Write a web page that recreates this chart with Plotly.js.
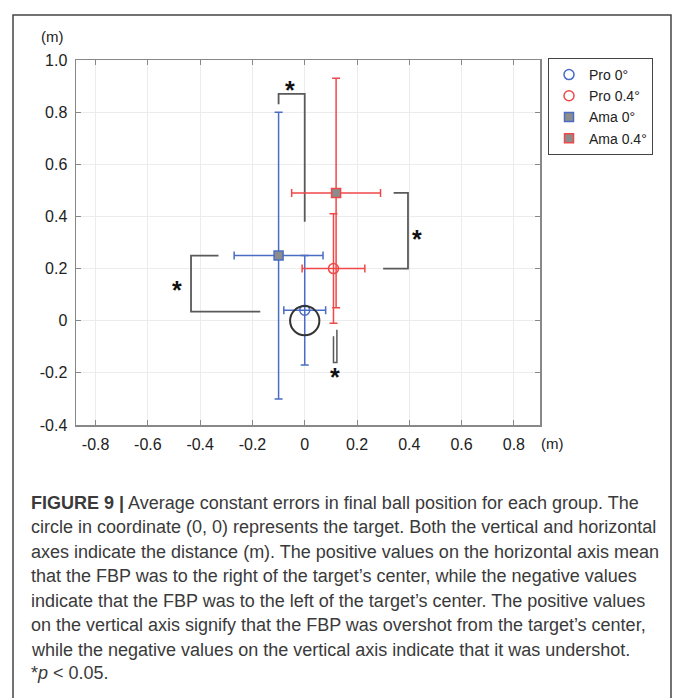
<!DOCTYPE html>
<html>
<head>
<meta charset="utf-8">
<script src="https://cdn.plot.ly/plotly-3.0.1.min.js"></script>
<style>html,body{margin:0;padding:0;background:#fff;}#chart{width:673px;height:698px;}</style>
</head>
<body>
<div id="chart"></div>
<script>
// ---- data ----
const groups = ['Pro 0°', 'Pro 0.4°', 'Ama 0°', 'Ama 0.4°'];
const meanX = [0.00, 0.11, -0.10, 0.12];
const meanY = [0.04, 0.20, 0.25, 0.49];
const sdX = [0.08, 0.12, 0.17, 0.17];
const sdY = [0.21, 0.21, 0.55, 0.44];

const xTickVals = [-0.8, -0.6, -0.4, -0.2, 0, 0.2, 0.4, 0.6, 0.8];
const xTickText = ['-0.8', '-0.6', '-0.4', '-0.2', '0', '0.2', '0.4', '0.6', '0.8'];
const yTickVals = [1.0, 0.8, 0.6, 0.4, 0.2, 0, -0.2, -0.4];
const yTickText = ['1.0', '0.8', '0.6', '0.4', '0.2', '0', '-0.2', '-0.4'];

// significance brackets (data coordinates)
const bracketX = [
  [-0.10, -0.10, 0.0, 0.0],
  [0.34, 0.395, 0.395, 0.30],
  [-0.33, -0.435, -0.435, -0.17],
  [0.11, 0.11, 0.123, 0.123]
];
const bracketY = [
  [0.83, 0.87, 0.87, 0.38],
  [0.49, 0.49, 0.20, 0.20],
  [0.25, 0.25, 0.035, 0.035],
  [-0.06, -0.16, -0.16, -0.035]
];
const starX = [-0.056, 0.43, -0.49, 0.116];
const starY = [0.90, 0.33, 0.135, -0.20];
const targetRadius = 0.056;

const captionLines = [
  '<b>FIGURE 9 |</b> Average constant errors in final ball position for each group. The',
  'circle in coordinate (0, 0) represents the target. Both the vertical and horizontal',
  'axes indicate the distance (m). The positive values on the horizontal axis mean',
  'that the FBP was to the right of the target\u2019s center, while the negative values',
  'indicate that the FBP was to the left of the target\u2019s center. The positive values',
  'on the vertical axis signify that the FBP was overshot from the target\u2019s center,',
  'while the negative values on the vertical axis indicate that it was undershot.',
  '*<i>p</i> &lt; 0.05.'
];

// ---- styles ----
const colors = ['#4a6cc4', '#f04848', '#4a6cc4', '#f04848'];
const symbols = ['circle-open', 'circle-open', 'square', 'square'];
const fills = ['rgba(0,0,0,0)', 'rgba(0,0,0,0)', '#8c8c8c', '#8c8c8c'];

const W = 673, H = 698;
const M = {l: 76, r: 133, t: 60, b: 273};
const pw = W - M.l - M.r, ph = H - M.t - M.b;
const px = x => (x - M.l) / pw;
const py = y => (H - M.b - y) / ph;

const traces = [];
for (let i = 0; i < bracketX.length; i++) {
  traces.push({
    x: bracketX[i], y: bracketY[i], mode: 'lines', type: 'scatter',
    line: {color: '#5a5a5a', width: i === 3 ? 1.5 : 1.8}, showlegend: false, hoverinfo: 'skip'
  });
}
const order = [2, 0, 3, 1];
order.forEach(i => {
  traces.push({
    x: [meanX[i]], y: [meanY[i]], type: 'scatter', mode: 'markers', name: groups[i],
    legendrank: i + 1,
    marker: {symbol: symbols[i], size: i < 2 ? 10 : 9, color: i < 2 ? colors[i] : fills[i],
             line: {color: colors[i], width: 1.5}},
    error_x: {type: 'data', array: [sdX[i]], color: colors[i], thickness: 1.5, width: 4},
    error_y: {type: 'data', array: [sdY[i]], color: colors[i], thickness: 1.5, width: 4}
  });
});

const annotations = [];
for (let i = 0; i < starX.length; i++) {
  annotations.push({x: starX[i], y: starY[i], xref: 'x', yref: 'y', text: '<b>*</b>', showarrow: false,
    xanchor: 'center', yanchor: 'middle',
    font: {family: 'Liberation Sans, Arial', size: 25, color: '#111'}, yshift: -4});
}
annotations.push({x: px(52), y: py(37), xref: 'paper', yref: 'paper', text: '(m)', showarrow: false,
  xanchor: 'center', yanchor: 'middle',
  font: {family: 'Liberation Sans, Arial', size: 15, color: '#222'}});
annotations.push({x: px(552), y: py(444), xref: 'paper', yref: 'paper', text: '(m)', showarrow: false,
  xanchor: 'center', yanchor: 'middle',
  font: {family: 'Liberation Sans, Arial', size: 15, color: '#222'}});
const capY = [503, 527, 552, 576, 601, 625, 650, 673];
captionLines.forEach((t, k) => {
  annotations.push({x: px(29), y: py(capY[k]), xref: 'paper', yref: 'paper', xanchor: 'left', yanchor: 'middle',
    text: t, showarrow: false, font: {family: 'Liberation Sans, Arial', size: 18, color: '#3a3a3a'}});
});

const layout = {
  width: W, height: H, margin: M, paper_bgcolor: '#fff', plot_bgcolor: '#fff',
  font: {family: 'Liberation Sans, Arial', color: '#222', size: 15},
  xaxis: {range: [-0.875, 0.9], tickvals: xTickVals, ticktext: xTickText, ticks: 'inside', ticklen: 5,
    tickcolor: '#888', showline: true, linecolor: '#888', linewidth: 1.5, mirror: 'ticks',
    showgrid: true, gridcolor: '#ececec', gridwidth: 1, zeroline: false,
    tickfont: {family: 'Liberation Sans, Arial', size: 16, color: '#222'}, ticklabelstandoff: 4},
  yaxis: {range: [-0.4, 1.0], tickvals: yTickVals, ticktext: yTickText, ticks: 'inside', ticklen: 5,
    tickcolor: '#888', showline: true, linecolor: '#888', linewidth: 1.5, mirror: 'ticks',
    showgrid: true, gridcolor: '#ececec', gridwidth: 1, zeroline: false,
    tickfont: {family: 'Liberation Sans, Arial', size: 16, color: '#222'}, ticklabelstandoff: 4},
  showlegend: true,
  legend: {x: px(548), y: py(58), xanchor: 'left', yanchor: 'top', bordercolor: '#444', borderwidth: 1,
    bgcolor: '#fff', font: {size: 14, color: '#222'}, itemwidth: 30, traceorder: 'normal'},
  shapes: [
    {type: 'circle', xref: 'x', yref: 'y', x0: -targetRadius, x1: targetRadius, y0: -targetRadius, y1: targetRadius,
     line: {color: '#333', width: 2}, layer: 'above'},
    {type: 'rect', xref: 'paper', yref: 'paper', x0: px(13), x1: px(671), y0: py(715), y1: py(15),
     line: {color: '#444', width: 1.5}, layer: 'above'}
  ],
  annotations: annotations
};

Plotly.newPlot('chart', traces, layout, {displayModeBar: false, staticPlot: true});
</script>
</body>
</html>
